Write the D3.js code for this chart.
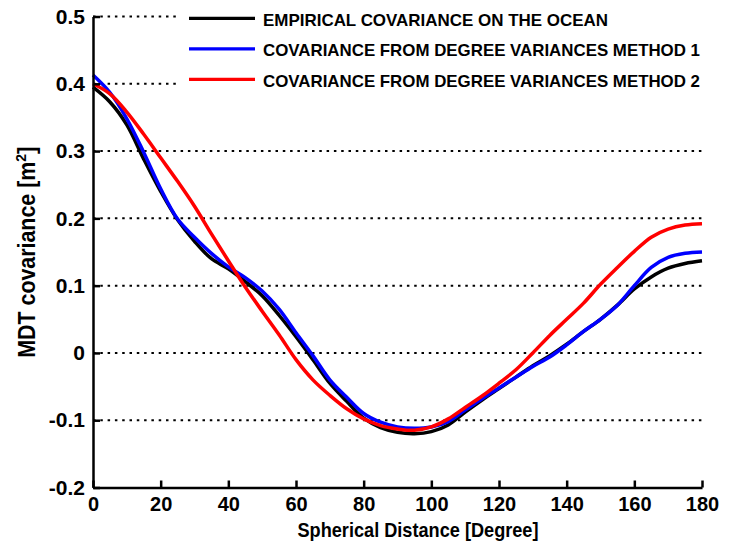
<!DOCTYPE html>
<html><head><meta charset="utf-8">
<script src="https://cdn.jsdelivr.net/npm/d3@7"></script>
<style>body{margin:0;background:#fff}svg{display:block}text{font-family:"Liberation Sans",Arial,sans-serif;font-weight:bold}</style>
</head><body>
<script>
const distance = d3.range(0, 181, 5);
const empirical = [0.395,0.373,0.339,0.288,0.240,0.198,0.166,0.140,0.125,0.106,0.085,0.056,0.024,-0.010,-0.045,-0.072,-0.097,-0.111,-0.118,-0.120,-0.117,-0.107,-0.088,-0.070,-0.053,-0.036,-0.019,-0.004,0.013,0.032,0.050,0.071,0.095,0.113,0.126,0.133,0.137];
const method1 = [0.413,0.387,0.348,0.298,0.244,0.199,0.172,0.148,0.128,0.112,0.092,0.065,0.030,-0.004,-0.040,-0.066,-0.090,-0.103,-0.110,-0.112,-0.110,-0.102,-0.085,-0.068,-0.052,-0.036,-0.020,-0.006,0.012,0.032,0.050,0.071,0.100,0.127,0.142,0.148,0.150];
const method2 = [0.400,0.385,0.358,0.325,0.290,0.255,0.218,0.177,0.137,0.098,0.062,0.027,-0.010,-0.040,-0.063,-0.083,-0.098,-0.108,-0.113,-0.115,-0.110,-0.098,-0.081,-0.064,-0.045,-0.025,0.000,0.026,0.050,0.074,0.102,0.127,0.151,0.172,0.184,0.190,0.192];
const xTicks = [0,20,40,60,80,100,120,140,160,180];
const yTicks = [-0.2,-0.1,0,0.1,0.2,0.3,0.4,0.5];
const yTickLabels = ["-0.2","-0.1","0","0.1","0.2","0.3","0.4","0.5"];
const seriesNames = ["EMPIRICAL COVARIANCE ON THE OCEAN","COVARIANCE FROM DEGREE VARIANCES METHOD 1","COVARIANCE FROM DEGREE VARIANCES METHOD 2"];
const seriesColors = ["#000000","#0000ff","#ff0000"];

const W = 732, H = 547;
const svg = d3.select("body").append("svg").attr("width", W).attr("height", H);
const x = d3.scaleLinear().domain([0,180]).range([93,702]);
const y = d3.scaleLinear().domain([-0.2,0.5]).range([487.5,16.5]);
const FONT = "Liberation Sans, Arial, sans-serif";

// grid
svg.append("g").selectAll("line").data(yTicks.filter(v => v > -0.2)).join("line")
  .attr("x1", x(0)).attr("x2", x(180)).attr("y1", d => y(d)).attr("y2", d => y(d))
  .attr("stroke", "#000").attr("stroke-width", 2).attr("stroke-dasharray", "2.5,4.8");

// lines
const allSeries = [empirical, method1, method2];
const line = d3.line().x((d,i) => x(distance[i])).y(d => y(d)).curve(d3.curveCatmullRom);
svg.append("g").selectAll("path").data(allSeries).join("path")
  .attr("d", d => line(d)).attr("fill", "none")
  .attr("stroke", (d,i) => seriesColors[i]).attr("stroke-width", 3.5);

// axes
const xAxis = d3.axisBottom(x).tickValues(xTicks).tickSizeInner(-7).tickSizeOuter(0).tickPadding(9);
const gx = svg.append("g").attr("transform", `translate(0,${y(-0.2)})`).call(xAxis);
gx.select(".domain").attr("stroke-width", 2.5);
gx.selectAll(".tick line").attr("stroke-width", 2.5);
gx.selectAll(".tick text").attr("font-size", 20).attr("font-weight", "bold").attr("fill", "#000")
  .attr("font-family", FONT);

const yAxis = d3.axisLeft(y).tickValues(yTicks).tickFormat((d,i) => yTickLabels[i]).tickSizeInner(-7).tickSizeOuter(0).tickPadding(8);
const gy = svg.append("g").attr("transform", `translate(${x(0)},0)`).call(yAxis);
gy.select(".domain").attr("stroke-width", 2.5);
gy.selectAll(".tick line").attr("stroke-width", 2.5);
gy.selectAll(".tick text").attr("font-size", 21).attr("font-weight", "bold").attr("fill", "#000")
  .attr("font-family", FONT);

// axis titles
svg.append("text").attr("x", 418).attr("y", 537).attr("text-anchor", "middle")
  .attr("font-size", 21).attr("textLength", 241).attr("lengthAdjust", "spacingAndGlyphs")
  .text("Spherical Distance [Degree]");
const yt = svg.append("text").attr("transform", "translate(35,252) rotate(-90)").attr("text-anchor", "middle")
  .attr("font-size", 23);
yt.append("tspan").attr("textLength", 196).attr("lengthAdjust", "spacingAndGlyphs").text("MDT covariance [m");
yt.append("tspan").attr("font-size", 14).attr("dy", -9).text("2");
yt.append("tspan").attr("dy", 9).text("]");

// legend
const lg = svg.append("g");
lg.append("rect").attr("x", 180).attr("y", 0).attr("width", 552).attr("height", 96).attr("fill", "#fff");
const legendLen = [345, 437, 437];
seriesNames.forEach((name, i) => {
  const ly = 18.3 + i * 30.5;
  lg.append("line").attr("x1", 189).attr("x2", 255).attr("y1", ly).attr("y2", ly)
    .attr("stroke", seriesColors[i]).attr("stroke-width", 3.2);
  lg.append("text").attr("x", 263).attr("y", ly + 7.5).attr("font-size", 17)
    .attr("textLength", legendLen[i]).attr("lengthAdjust", "spacingAndGlyphs").text(name);
});
</script>
</body></html>
